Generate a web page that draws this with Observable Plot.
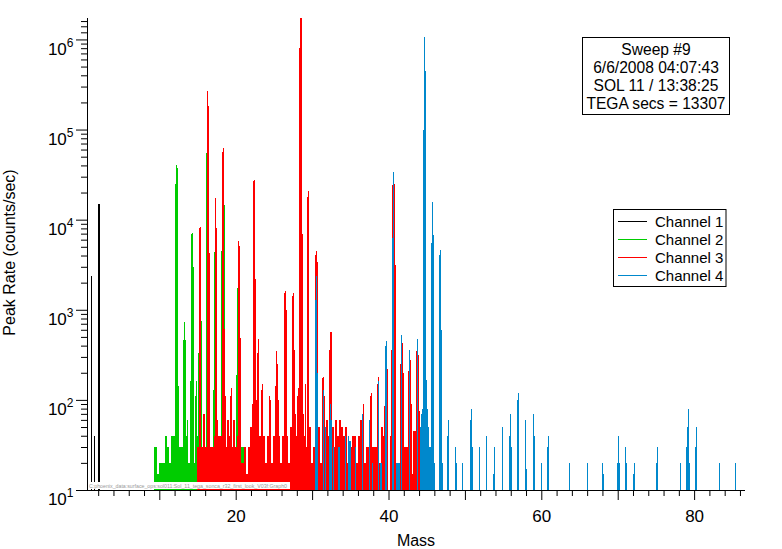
<!DOCTYPE html>
<html><head><meta charset="utf-8">
<script src="https://cdn.jsdelivr.net/npm/d3@7"></script>
<script src="https://cdn.jsdelivr.net/npm/@observablehq/plot@0.6"></script>
<style>
html,body{margin:0;padding:0;background:#fff;}
svg{display:block}
</style></head><body><div id="chart"></div>
<script>
// ---- axes ----
const xDomain = [0.537, 86.66];
const yDomain = [10, 1.73e6];
const xMinorTicks = [2,4,6,8,12,14,16,18,22,24,26,28,32,34,36,38,42,44,46,48,52,54,56,58,62,64,66,68,72,74,76,78,82,84,86];
const xMajorTicks = [10,20,30,40,50,60,70,80];
const xTickLabels = [20,40,60,80];
const yMajorTicks = [10,100,1000,10000,100000,1000000];
const yTickExponents = [1,2,3,4,5,6];
const yMinorTicks = [20,30,40,50,60,70,80,90,200,300,400,500,600,700,800,900,
  2000,3000,4000,5000,6000,7000,8000,9000,20000,30000,40000,50000,60000,70000,80000,90000,
  200000,300000,400000,500000,600000,700000,800000,900000,1200000,1400000,1600000];

// ---- channels ----
const channelNames = ["Channel 1","Channel 2","Channel 3","Channel 4"];
const channelColors = ["#000000","#00cc00","#ff0000","#0088cc"];

// Channel 1 (individual samples)
const ch1Mass  = [1.10, 1.49, 2.02, 2.15];
const ch1Count = [2400, 40, 15000, 15000];

// Channel 2: noise floor (regular sampling) + peaks
const noiseStep = 0.248;
const ch2NoiseStart = 9.366;
const ch2Noise = [30,30,15,20,20,20,40,30,20,40,40,40,40,30,30,30,30,40,20,20,20,20,50,40,
  20,30,20,20,20,20,20,30,20,20,20,20,20,30,20,20,20,20,20,30,20,30,30,30,30];
const ch2Mass  = [12.12,12.26,12.38,12.51,13.17,13.30,13.43,13.70,14.08,14.21,14.35,14.48,14.74,14.88,15.13,15.52,16.18,17.09,17.22,18.14,18.53,20.11,20.24,20.63];
const ch2Count = [25000,40000,37500,143,460,730,460,60,163,6900,7100,3000,110,163,330,750,54600,128,4400,4500,14500,189,1760,330];

// Channel 3
const ch3NoiseStart = 15.075;
const ch3Noise = [30,30,30,70,30,40,30,30,30,40, 60,40,40,40,30,30,60,40,30,60,
  30,40,40,20,20,30,15,30,50,40, 40,40,40,40,40,40,20,40,40,20,
  40,40,40,40,20,40,40,40,20,50, 40,70,40,40,40,70,40,30,50,50,
  20,30,40,40,50,20,40,40,60,40, 40,50,30,60,40,60,50,40,50,20,
  30,30,40,40,20,40,60,40,20,30, 30,30,30,30,30,60,20,50,40,20,
  20,10,40,40,20,20,20,40,50,30, 30,30,20,15,45,30,30,10];
const ch3Mass  = [15.26,15.39,16.31,16.44,16.57,17.36,17.49,18.27,18.40,18.53,18.67,19.31,19.44,20.37,20.50,20.63,
  22.20,22.33,22.46,22.59,22.72,22.86,22.99,23.37,23.50,24.43,24.56,25.21,25.34,25.47,25.60,
  26.38,26.51,26.64,27.44,27.57,27.69,28.09,28.22,28.35,28.48,28.62,28.75,28.88,29.13,29.40,29.53,29.66,
  30.44,30.57,30.70,31.36,31.49,31.62,32.28,32.41,32.55,33.72,36.60,36.73,37.64,37.77,38.55,38.69,
  39.48,39.87,40.39,40.52,40.65,40.79,40.92,41.57,41.83,41.96,42.61,42.87,43.00,43.53,43.66,43.92,44.06];
const ch3Count = [8100,8200,268000,183000,4260,17400,8100,56900,62500,610,110,110,135,5850,5130,490,
  90,26900,27500,2200,100,330,470,130,150,110,100,143,349,250,100,
  1535,1600,1000,1420,1530,360,110,135,811000,1760000,1760000,6940,70,150,18000,21000,50,
  4060,4500,3380,175,180,110,360,571,560,60,70,90,110,120,150,180,
  85,222,360,24100,25000,25000,3130,250,425,200,210,275,90,45,350,315,75];

// Channel 4
const ch4Mass  = [30.44,30.57,30.70,31.49,31.75,32.28,32.41,32.55,32.81,33.44,33.57,34.36,34.74,34.87,35.00,35.66,
  36.60,37.51,37.91,38.69,38.94,39.07,39.61,39.74,40.52,40.65,41.05,41.18,41.31,41.43,41.70,42.74,43.80,
  44.18,44.31,44.44,44.57,44.71,44.84,44.97,45.10,45.24,45.36,45.49,45.62,45.75,45.88,46.01,46.68,46.81,46.94,47.07,
  47.72,47.86,48.77,48.90,49.68,50.74,50.87,51.00,51.91,52.83,53.74,53.87,54.92,55.84,55.97,56.10,56.88,57.01,
  57.93,58.06,58.98,59.11,60.03,60.81,60.94,63.69,66.05,68.01,68.14,69.98,70.11,70.24,71.02,71.15,72.07,72.20,
  75.08,75.21,78.22,79.00,79.13,79.26,79.40,80.18,80.31,83.32,85.42];
const ch4Count = [1300,2400,200,130,50,60,90,60,30,30,30,40,40,35,35,30,
  70,60,20,160,20,20,395,450,6300,34000,20,20,20,20,520,360,470,
  50,70,80,100000,1070000,447000,165,80,50,30,30,5470,15700,6800,20,4060,4600,600,20,
  40,60,30,20,20,60,80,30,30,40,15,30,50,40,70,30,100,120,
  60,17,70,40,20,30,40,20,20,20,15,20,40,20,30,20,15,20,
  20,30,20,30,50,80,20,30,50,20,20];

const peakWidth = 0.14;
function peakRows(mass, count) {
  return mass.map((m, i) => ({x1: m - peakWidth / 2, x2: m + peakWidth / 2, y: count[i]}));
}
function noiseRows(start, values) {
  return values.map((v, i) => ({x1: start + (i - 0.5) * noiseStep, x2: start + (i + 0.5) * noiseStep, y: v}));
}
function bars(rows, color) {
  return Plot.rect(rows, {x1: "x1", x2: "x2", y1: () => yDomain[0], y2: "y", fill: color, clip: true, shapeRendering: "crispEdges"});
}

const svg = Plot.plot({
  width: 782, height: 549,
  marginLeft: 87, marginRight: 37, marginTop: 18, marginBottom: 59,
  x: {domain: xDomain},
  y: {type: "log", domain: yDomain},
  style: {fontFamily: "'Liberation Sans', Arial, sans-serif", fontSize: "17px", background: "#fff", color: "#000"},
  marks: [
    bars(peakRows(ch1Mass, ch1Count), channelColors[0]),
    bars(noiseRows(ch2NoiseStart, ch2Noise), channelColors[1]),
    bars(peakRows(ch2Mass, ch2Count), channelColors[1]),
    bars(noiseRows(ch3NoiseStart, ch3Noise), channelColors[2]),
    bars(peakRows(ch3Mass, ch3Count), channelColors[2]),
    bars(peakRows(ch4Mass, ch4Count), channelColors[3]),
    Plot.ruleY([yDomain[0]], {stroke: "#000"}),
    Plot.ruleX([xDomain[0]], {stroke: "#000"}),
    Plot.axisX({ticks: xMinorTicks, tickSize: 6, tickFormat: () => "", label: null}),
    Plot.axisX({ticks: xMajorTicks, tickSize: 10, tickPadding: 9, tickFormat: d => xTickLabels.includes(d) ? String(d) : "", label: null}),
    Plot.axisY({ticks: yMinorTicks, tickSize: 6, tickFormat: () => "", label: null}),
    Plot.axisY({ticks: yMajorTicks, tickSize: 11, tickPadding: 3, tickFormat: d => "10^" + yTickExponents[yMajorTicks.indexOf(d)], label: null})
  ]
});

const root = d3.select(svg);
// superscript exponents on y tick labels
root.selectAll('g[aria-label="y-axis tick label"] text').each(function() {
  const t = this.textContent;
  if (!t.includes("^")) return;
  const [base, exp] = t.split("^");
  const s = d3.select(this);
  s.text(base).attr("dy", "0.55em");
  s.append("tspan").attr("dy", -8).attr("font-size", 12).text(exp);
});

const font = "'Liberation Sans', Arial, sans-serif";
// axis titles
root.append("text").attr("x", 416).attr("y", 546).attr("text-anchor", "middle")
  .attr("font-family", font).attr("font-size", 16).text("Mass");
root.append("text").attr("transform", "translate(15,252.5) rotate(-90)").attr("text-anchor", "middle")
  .attr("font-family", font).attr("font-size", 16).text("Peak Rate (counts/sec)");

// file path tag
const pathTag = "C:phoenix_data:surface_ops:sol011:Sol_11_tega_sonca_r32_first_look_V03f:Graph0";
root.append("rect").attr("x", 88).attr("y", 482).attr("width", 202).attr("height", 7).attr("fill", "#fff");
root.append("text").attr("x", 89).attr("y", 488.3).attr("text-anchor", "start").attr("font-family", font).attr("font-size", 6)
  .attr("fill", "#9a9a9a").attr("textLength", 198).attr("lengthAdjust", "spacingAndGlyphs").text(pathTag);

// info box
const infoLines = ["Sweep #9", "6/6/2008 04:07:43", "SOL 11 / 13:38:25", "TEGA secs = 13307"];
root.append("rect").attr("x", 582.5).attr("y", 37.5).attr("width", 147).attr("height", 77)
  .attr("fill", "#fff").attr("stroke", "#000");
infoLines.forEach((t, i) => root.append("text").attr("x", 656).attr("y", 55 + i * 18)
  .attr("text-anchor", "middle").attr("font-family", font).attr("font-size", 15.6).text(t));

// legend
root.append("rect").attr("x", 613.5).attr("y", 209.5).attr("width", 112.5).attr("height", 77)
  .attr("fill", "#fff").attr("stroke", "#000");
channelNames.forEach((n, i) => {
  root.append("line").attr("x1", 618).attr("x2", 647).attr("y1", 221.5 + i * 18).attr("y2", 221.5 + i * 18)
    .attr("stroke", channelColors[i]).attr("stroke-width", 1);
  root.append("text").attr("x", 655).attr("y", 226.8 + i * 18).attr("text-anchor", "start").attr("font-family", font)
    .attr("font-size", 15).text(n);
});

document.getElementById("chart").appendChild(svg);
</script></body></html>
